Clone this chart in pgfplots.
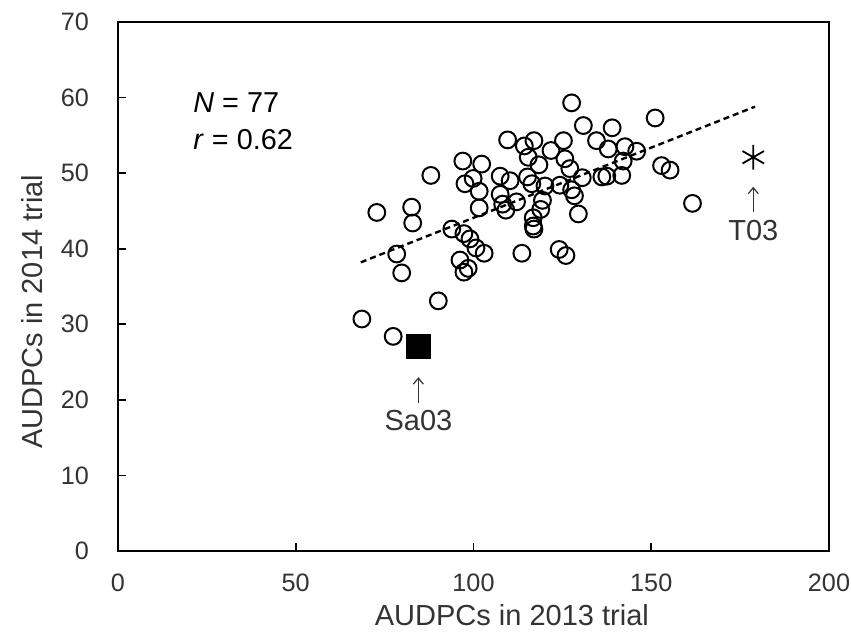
\documentclass[border=0pt]{standalone}
\usepackage{fontspec}
\setmainfont{Liberation Sans}
\usepackage{pgfplots}
\pgfplotsset{compat=1.18}
\usetikzlibrary{arrows.meta}
\definecolor{txt}{HTML}{333333}

\pgfplotstableread{
x y
68.6 30.7
77.4 28.4
72.8 44.8
82.6 45.5
82.9 43.4
88.0 49.7
78.4 39.3
79.8 36.8
90.1 33.1
93.9 42.6
97.3 42.0
99.0 41.3
100.7 40.1
103.0 39.4
96.2 38.5
98.5 37.4
97.3 36.9
113.6 39.4
97.0 51.6
102.3 51.2
99.9 49.3
97.6 48.6
101.6 47.6
101.6 45.4
107.5 49.6
110.3 49.0
107.5 47.2
108.2 45.9
109.1 45.1
112.1 46.2
109.6 54.4
114.3 53.6
115.4 52.1
115.2 49.5
117.0 54.3
118.4 51.1
116.8 44.1
116.8 43.0
117.0 42.6
116.4 48.6
127.6 59.3
151.1 57.3
130.9 56.3
139.0 56.0
134.6 54.3
137.9 53.2
142.6 53.5
145.9 52.9
142.1 51.6
141.7 49.7
136.1 49.5
137.5 49.6
152.9 51.0
155.3 50.4
161.6 46.0
125.3 54.3
121.8 53.0
125.7 51.9
127.1 50.6
130.6 49.4
124.3 48.4
127.6 47.8
128.4 47.0
129.5 44.6
120.1 48.3
119.4 46.4
118.9 45.2
124.1 39.9
126.0 39.1
}\circles

\pgfplotstableread{
x y
68.3 38.2
179.2 58.8
}\trend

\begin{document}
\begin{tikzpicture}
\useasboundingbox (-59pt,-40.5pt) rectangle (366.5pt,275.5pt);
\begin{axis}[
  scale only axis,
  width=355.5pt, height=264.5pt,
  xmin=0, xmax=200, ymin=0, ymax=70,
  xtick={0,50,...,200}, ytick={0,10,...,70},
  tick pos=left, tick align=inside,
  major tick length=4pt,
  axis line style={black, line width=0.9pt},
  tick style={black, line width=0.9pt},
  font=\fontsize{12.6}{15}\selectfont,
  /pgf/number format/assume math mode=true,
  ticklabel style={text=txt},
  yticklabel style={xshift=-11pt},
  xticklabel style={yshift=-8pt},
  xlabel={AUDPCs in 2013 trial},
  ylabel={AUDPCs in 2014 trial},
  label style={text=txt, font=\fontsize{14.5}{17}\selectfont},
  xlabel style={at={(axis description cs:0.554,-0.121)}, anchor=center},
  ylabel style={at={(axis description cs:-0.121,0.452)}, anchor=center},
  clip=false,
]
\addplot[black, line width=1.2pt, dash pattern=on 3pt off 2pt] table {\trend};
\addplot[only marks, mark=o, mark size=4.2pt, mark options={black, line width=1pt, fill=white}] table {\circles};
\addplot[only marks, mark=square*, mark size=6pt, mark options={black, fill=black}] coordinates {(84.5,27.1)};
\addplot[only marks, mark=asterisk, mark size=6.2pt, mark options={black, line width=0.9pt}] coordinates {(178.7,52.1)};
\draw[txt, line width=0.6pt, -{Straight Barb[length=3pt,width=5pt]}] (axis cs:84.5,19.6) -- (axis cs:84.5,23.0);
\node[txt, anchor=center, font=\fontsize{14.5}{17}\selectfont] at (axis cs:84.5,17.3) {Sa03};
\draw[txt, line width=0.6pt, -{Straight Barb[length=3pt,width=5pt]}] (axis cs:178.7,44.8) -- (axis cs:178.7,48.2);
\node[txt, anchor=center, font=\fontsize{14.5}{17}\selectfont] at (axis cs:178.7,42.4) {T03};
\node[anchor=west, inner sep=0pt, font=\fontsize{14.4}{17}\selectfont] at (axis cs:21.1,59.4) {\textit{N} = 77};
\node[anchor=west, inner sep=0pt, font=\fontsize{14.4}{17}\selectfont] at (axis cs:21.1,54.4) {\textit{r} = 0.62};
\end{axis}
\end{tikzpicture}
\end{document}
